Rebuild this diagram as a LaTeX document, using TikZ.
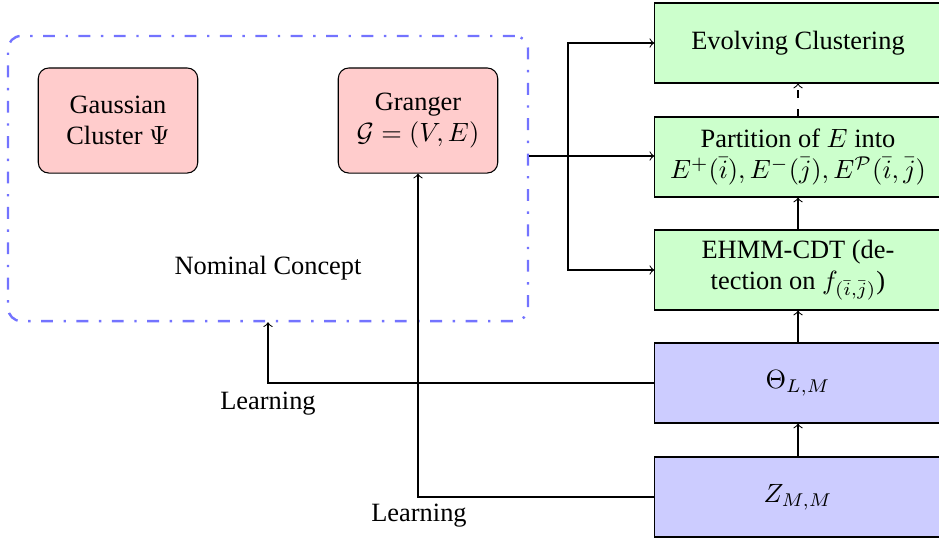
\documentclass[tikz,border=0pt]{standalone}
\usepackage{fontspec}
\setmainfont{Liberation Serif}
\usetikzlibrary{calc}
\begin{document}
\begin{tikzpicture}[x=0.37879pt, y=-0.37879pt,
  concept/.style={draw, rounded corners=4pt, fill=red!20, align=center,
    minimum width=60.4pt, minimum height=39.8pt, inner sep=2pt},
  stage/.style={draw, fill=green!20, align=center,
    minimum width=108.5pt, minimum height=30.3pt, inner sep=2pt},
  source/.style={draw, fill=blue!20, align=center,
    minimum width=108.5pt, minimum height=30.3pt, inner sep=2pt},
  nominal/.style={draw=blue!55, line width=0.9pt,
    dash pattern=on 4.5pt off 4pt on 0.9pt off 4pt, rounded corners=5pt,
    minimum width=197pt, minimum height=108pt},
  link/.style={->}
]
\useasboundingbox (0,0) rectangle (939,541);

% grouping frame and its label
\node[nominal] (nom) at (268,178.5) {};
\node (nomlabel) at (268,268) {Nominal Concept};

% concepts inside the frame
\node[concept] (gauss) at (118,120.5) {Gaussian\\Cluster $\Psi$};
\node[concept] (granger) at (418,120.5) {Granger\\$\mathcal{G}=(V,E)$};

% processing chain on the right
\node[stage] (evo)  at (798,43)  {Evolving Clustering};
\node[stage] (part) at (798,157) {Partition of $E$ into\\$E^{+}(\bar{i}),E^{-}(\bar{j}),E^{\mathcal{P}}(\bar{i},\bar{j})$};
\node[stage] (ehmm) at (798,270) {EHMM-CDT (de-\\tection on $f_{(\bar{i},\bar{j})}$)};
\node[source] (theta) at (798,383) {$\Theta_{L,M}$};
\node[source] (zmm)   at (798,497) {$Z_{M,M}$};

% chain arrows
\draw[link] (zmm) -- (theta);
\draw[link] (theta) -- (ehmm);
\draw[link] (ehmm) -- (part);
\draw[link, dash pattern=on 3pt off 4pt] (part) -- (evo);

% fan-out from the frame
\coordinate (split) at (568,156);
\draw (nom.east |- split) -- (split);
\draw[link] (split) |- (evo.west);
\draw[link] (split) -- (split -| part.west);
\draw[link] (split) |- (ehmm.west);

% learning feedback
\draw[link] (theta.west) -| (nom.south);
\draw[link] (zmm.west) -| (granger.south);
\node (learn1) at (268,404) {Learning};
\node (learn2) at (419,516) {Learning};
\end{tikzpicture}
\end{document}
